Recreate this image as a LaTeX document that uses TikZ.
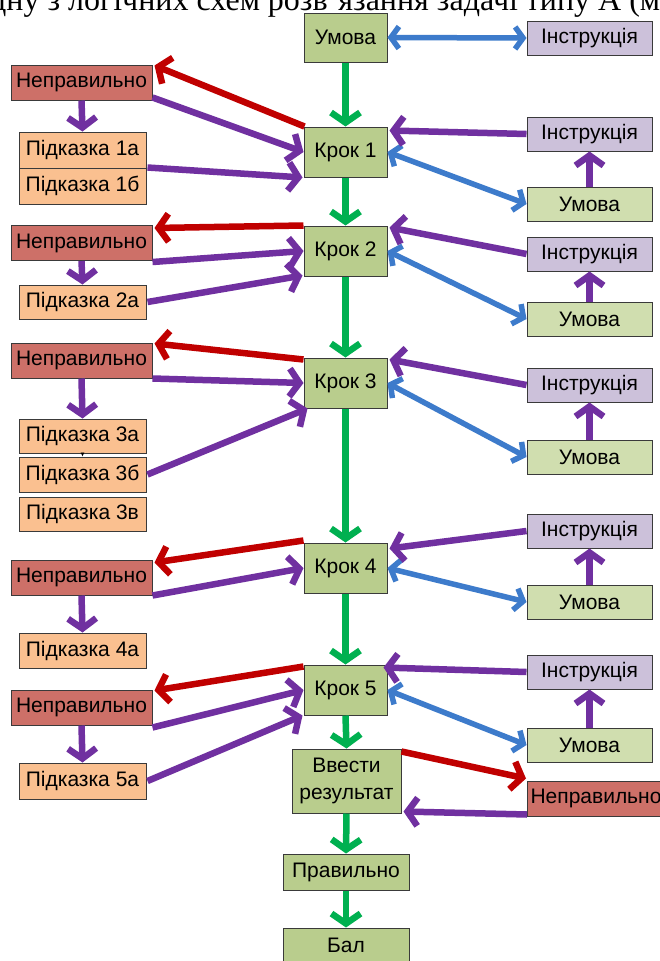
\documentclass[tikz,border=0pt]{standalone}
\usepackage{fontspec}
\setmainfont{Liberation Sans}
\newfontfamily\serifhead{Liberation Serif}
\usetikzlibrary{arrows.meta,calc}
\definecolor{cbox}{HTML}{B9CD8D}
\definecolor{ubox}{HTML}{D0DEAF}
\definecolor{rbox}{HTML}{CD7068}
\definecolor{obox}{HTML}{FAC090}
\definecolor{lbox}{HTML}{CCC1DA}
\definecolor{bord}{HTML}{3A3A3A}
\definecolor{agreen}{HTML}{00B050}
\definecolor{ared}{HTML}{C00000}
\definecolor{apurple}{HTML}{7030A0}
\definecolor{ablue}{HTML}{3D7BCB}
\tikzset{
  ptip/.tip={Straight Barb[length=10pt,width=28pt]},
  btip/.tip={Straight Barb[length=8pt,width=22pt]},
  gtip/.tip={Straight Barb[length=10pt,width=29pt]}
}
\begin{document}
\begin{tikzpicture}[x=1pt,y=-1pt,
  box/.style={draw=bord, line width=1pt, inner sep=0pt, anchor=center, font=\fontsize{21}{23}\selectfont},
  cbx/.style={box, fill=cbox, minimum width=83pt, minimum height=50pt},
  rtb/.style={box, minimum width=125pt, minimum height=34pt},
  lnb/.style={box, fill=rbox, minimum width=141pt, minimum height=35pt},
  hnt/.style={box, fill=obox, minimum width=127pt, minimum height=36pt},
  garr/.style={draw=agreen, line width=6.5pt, -{gtip}},
  rarr/.style={draw=ared, line width=6.5pt, -{ptip}},
  parr/.style={draw=apurple, line width=6.5pt, -{ptip}},
  barr/.style={draw=ablue, line width=5.5pt, {btip}-{btip}}
]
\useasboundingbox (0,0) rectangle (659,961);
\fill[white] (0,0) rectangle (659,961);

\node[anchor=base west, inner sep=0pt, font=\serifhead\fontsize{32}{32}\selectfont] (title) at (-10,10.5) {дну з логічних схем розв’язання задачі типу А (м};

% centre column
\node[cbx, minimum height=49pt] (u0) at (345.5,37.5) {Умова};
\node[cbx] (k1) at (345.5,152) {Крок 1};
\node[cbx] (k2) at (345.5,251) {Крок 2};
\node[cbx] (k3) at (345.5,383) {Крок 3};
\node[cbx] (k4) at (345.5,568) {Крок 4};
\node[cbx] (k5) at (345.5,690) {Крок 5};
\node[box, fill=cbox, minimum width=109pt, minimum height=64pt, align=center, font=\fontsize{21}{27}\selectfont] (ve) at (346.5,781) {Ввести\\результат};
\node[box, fill=cbox, minimum width=126pt, minimum height=36pt] (pr) at (346,872) {Правильно};
\node[box, fill=cbox, minimum width=126pt, minimum height=35pt] (bal) at (346,945.5) {Бал};

% right column
\node[rtb, fill=lbox] (i0) at (589.5,38) {Інструкція};
\node[rtb, fill=lbox] (i1) at (589.5,134) {Інструкція};
\node[rtb, fill=ubox] (v1) at (589.5,204) {Умова};
\node[rtb, fill=lbox] (i2) at (589.5,254) {Інструкція};
\node[rtb, fill=ubox] (v2) at (589.5,319) {Умова};
\node[rtb, fill=lbox] (i3) at (589.5,385) {Інструкція};
\node[rtb, fill=ubox] (v3) at (589.5,457) {Умова};
\node[rtb, fill=lbox] (i4) at (589.5,531) {Інструкція};
\node[rtb, fill=ubox] (v4) at (589.5,602) {Умова};
\node[rtb, fill=lbox] (i5) at (589.5,672) {Інструкція};
\node[rtb, fill=ubox] (v5) at (589.5,745) {Умова};
\node[box, fill=rbox, minimum width=150pt, minimum height=35pt, anchor=west] (nr) at (527,798.5) {\hspace*{-13pt}Неправильно};

% left column
\node[lnb] (n1) at (81.5,82.5) {Неправильно};
\node[hnt] (h1a) at (82.5,150) {Підказка 1а};
\node[hnt] (h1b) at (82.5,186) {Підказка 1б};
\node[lnb] (n2) at (81.5,243) {Неправильно};
\node[hnt, minimum height=34pt] (h2a) at (82.5,302) {Підказка 2а};
\node[lnb] (n3) at (81.5,360.5) {Неправильно};
\node[hnt, minimum height=34pt] (h3a) at (82.5,436) {Підказка 3а};
\node[hnt, minimum height=35pt] (h3b) at (82.5,474.5) {Підказка 3б};
\node[hnt, minimum height=34pt] (h3c) at (82.5,514) {Підказка 3в};
\node[lnb] (n4) at (81.5,577.5) {Неправильно};
\node[hnt, minimum height=35pt] (h4a) at (82.5,650.5) {Підказка 4а};
\node[lnb] (n5) at (81.5,707.5) {Неправильно};
\node[hnt] (h5a) at (82.5,781) {Підказка 5а};

% green flow
\draw[garr] (u0.south) -- (k1.north);
\draw[garr] (k1.south) -- (k2.north);
\draw[garr] (k2.south) -- (k3.north);
\draw[garr] (k3.south) -- (k4.north);
\draw[garr] (k4.south) -- (k5.north);
\draw[garr] (k5.south) -- (ve.north);
\draw[garr] (ve.south) -- (pr.north);
\draw[garr] (pr.south) -- (bal.north);

% blue double arrows
\draw[barr] (u0.east) -- (i0.west);
\draw[barr] (k1.east) -- (v1.west);
\draw[barr] (k2.east) -- (v2.west);
\draw[barr] (k3.east) -- (v3.west);
\draw[barr] (k4.east) -- (v4.west);
\draw[barr] (k5.east) -- (v5.west);

% purple: Умова -> Інструкція
\draw[parr] (v1.north) -- (i1.south);
\draw[parr] (v2.north) -- (i2.south);
\draw[parr] (v3.north) -- (i3.south);
\draw[parr] (v4.north) -- (i4.south);
\draw[parr] (v5.north) -- (i5.south);

% purple: Інструкція -> Крок
\draw[parr] (i1.west) -- ($(k1.north east)+(2,4)$);
\draw[parr] (i2.west) -- ($(k2.north east)+(2,2)$);
\draw[parr] (i3.west) -- ($(k3.north east)+(2,2)$);
\draw[parr] (i4.west) -- ($(k4.north east)+(2,6)$);
\draw[parr] (i5.west) -- ($(k5.north east)+(-4,3)$);

% red: Крок -> Неправильно
\draw[rarr] ($(k1.north west)+(1,0)$) -- ($(n1.north east)+(2,1)$);
\draw[rarr] ($(k2.north west)+(0,0)$) -- ($(n2.north east)+(2,3)$);
\draw[rarr] ($(k3.north west)+(0,2)$) -- ($(n3.north east)+(2,1)$);
\draw[rarr] ($(k4.north west)+(0,-2)$) -- ($(n4.north east)+(2,3)$);
\draw[rarr] ($(k5.north west)+(0,2)$) -- ($(n5.north east)+(2,1)$);

% purple: Неправильно -> Крок
\draw[parr] ($(n1.south east)+(0,-3)$) -- (k1.west);
\draw[parr] ($(n2.south east)+(0,1)$) -- (k2.west);
\draw[parr] ($(n3.south east)+(0,0)$) -- (k3.west);
\draw[parr] ($(n4.south east)+(0,0)$) -- (k4.west);
\draw[parr] ($(n5.south east)+(0,2)$) -- (k5.west);

% purple: Неправильно -> Підказка
\draw[parr] (n1.south) -- (h1a.north);
\draw[parr] (n2.south) -- (h2a.north);
\draw[parr] (n3.south) -- (h3a.north);
\draw[parr] (n4.south) -- (h4a.north);
\draw[parr] (n5.south) -- (h5a.north);

% purple: Підказка -> Крок
\draw[parr] ($(h1b.north east)+(1,0)$) -- ($(k1.south west)+(-1,0)$);
\draw[parr] ($(h2a.east)+(1,0)$) -- ($(k2.south west)+(-1,-1)$);
\draw[parr] ($(h3b.east)+(1,0)$) -- ($(k3.south west)+(4,0)$);
\draw[parr] ($(h5a.east)+(1,0)$) -- ($(k5.south west)+(-1,0)$);

% small connector 3а -> 3б
\draw[black, line width=0.6pt, -{Latex[length=4pt,width=4pt]}] (h3a.south) -- (h3b.north);

% result loop
\draw[rarr] ($(ve.north east)+(0,3)$) -- ($(nr.north west)+(-1,-2)$);
\draw[parr] ($(nr.south west)+(0,-2)$) -- ($(ve.south east)+(2,-2)$);
\end{tikzpicture}
\end{document}
